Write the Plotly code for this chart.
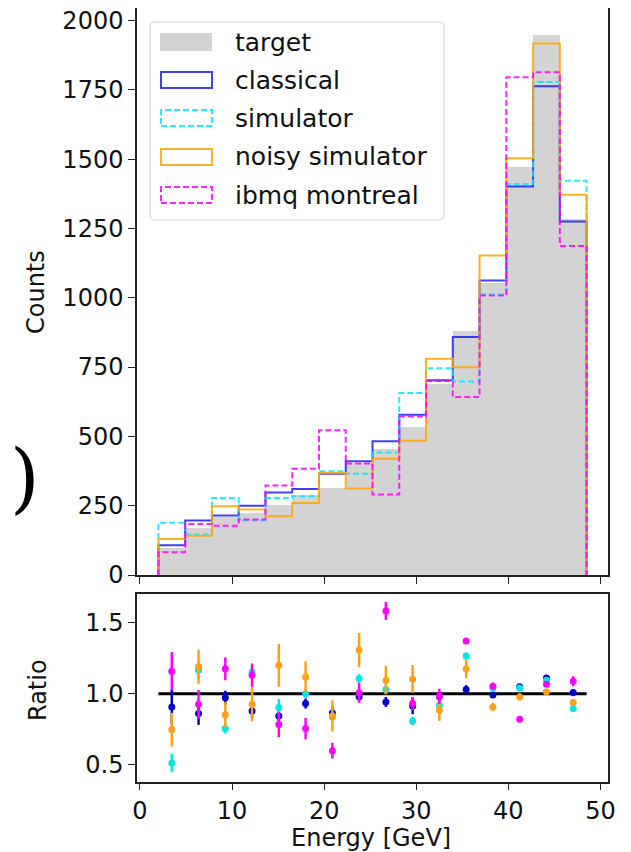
import numpy as np
import plotly.graph_objects as go

# ---------------- data ----------------
E_MIN, E_MAX, N_BINS = 2.0, 48.5, 16

target    = [96, 170, 210, 222, 252, 288, 315, 404, 456, 533, 688, 880, 1052, 1470, 1948, 1283]
classical = [107, 197, 215, 250, 298, 310, 365, 410, 482, 578, 702, 858, 1062, 1401, 1763, 1275]
simulator = [188, 146, 278, 197, 278, 284, 374, 365, 442, 656, 746, 698, 1012, 1410, 1778, 1422]
noisy     = [130, 142, 248, 236, 212, 260, 368, 312, 419, 484, 780, 749, 1152, 1503, 1917, 1371]
ibmq      = [82, 184, 178, 200, 323, 383, 522, 402, 290, 572, 700, 642, 1008, 1795, 1813, 1187]

ratio_classical = [0.907, 0.861, 0.971, 0.879, 0.844, 0.931, 0.865, 0.978, 0.942, 0.914, 0.98, 1.03, 0.99, 1.048, 1.111, 1.008]
err_classical   = [0.12, 0.08, 0.05, 0.05, 0.04, 0.035, 0.045, 0.025, 0.035, 0.058, 0.03, 0.03, 0.02, 0.02, 0.02, 0.025]
ratio_simulator = [0.513, 1.165, 0.755, 1.151, 0.903, 1.0, 0.837, 1.107, 1.03, 0.809, 0.919, 1.264, 1.04, 1.04, 1.095, 0.896]
err_simulator   = [0.064, 0.06, 0.035, 0.04, 0.06, 0.03, 0.03, 0.03, 0.03, 0.03, 0.03, 0.025, 0.025, 0.02, 0.02, 0.025]
ratio_noisy     = [0.748, 1.189, 0.853, 0.926, 1.2, 1.118, 0.844, 1.306, 1.095, 1.104, 0.884, 1.175, 0.907, 0.977, 1.013, 0.938]
err_noisy       = [0.118, 0.12, 0.088, 0.12, 0.15, 0.108, 0.11, 0.12, 0.1, 0.097, 0.075, 0.067, 0.03, 0.025, 0.02, 0.025]
ratio_ibmq      = [1.158, 0.926, 1.175, 1.13, 0.783, 0.755, 0.6, 1.006, 1.581, 0.931, 0.982, 1.37, 1.053, 0.82, 1.067, 1.088]
err_ibmq        = [0.135, 0.1, 0.08, 0.082, 0.088, 0.075, 0.055, 0.07, 0.063, 0.045, 0.053, 0.02, 0.025, 0.02, 0.02, 0.035]

labels = ["target", "classical", "simulator", "noisy simulator", "ibmq montreal"]

# ---------------- styling ----------------
FONT = "DejaVu Sans"
C_TARGET = "#d3d3d3"
C_LINES = {"classical": "rgba(30,30,240,0.85)", "simulator": "rgba(0,230,255,0.85)",
           "noisy simulator": "rgba(255,165,0,0.85)", "ibmq montreal": "rgba(255,0,255,0.85)"}
C_PTS = {"classical": "#0000cd", "simulator": "#00e6e6",
         "noisy simulator": "#ffa01a", "ibmq montreal": "#ff00ff"}
DASH = {"classical": "solid", "simulator": "6px,3px", "noisy simulator": "solid", "ibmq montreal": "6px,3px"}

# page body has an 8px margin; work in reference-pixel coordinates and shift
OFF = 8
W, H = 631 - OFF, 852 - OFF
FRAME_L, FRAME_R, FRAME_T, FRAME_B = 137, 608, 8, 782
L = FRAME_L - OFF
R = W - (FRAME_R - OFF)
T = FRAME_T - OFF
B = H - (FRAME_B - OFF)
PW, PH = W - L - R, H - T - B


def px(x):
    return (x - OFF - L) / PW


def py(y):
    return (H - B - (y - OFF)) / PH


edges = np.linspace(E_MIN, E_MAX, N_BINS + 1)
centers = 0.5 * (edges[:-1] + edges[1:])
bw = edges[1] - edges[0]

fig = go.Figure()

# target filled histogram
fig.add_trace(go.Bar(x=centers, y=target, width=bw, marker=dict(color=C_TARGET, line=dict(width=0)),
                     xaxis="x", yaxis="y", showlegend=False))

hist = {"classical": classical, "simulator": simulator, "noisy simulator": noisy, "ibmq montreal": ibmq}
for name, vals in hist.items():
    xs = np.concatenate([[edges[0]], edges])
    ys = np.concatenate([[0], vals, [0]])
    fig.add_trace(go.Scatter(x=xs, y=ys, mode="lines", line=dict(shape="hv", color=C_LINES[name], width=2,
                                                                  dash=DASH[name]),
                             xaxis="x", yaxis="y", showlegend=False, hoverinfo="skip"))

# ratio panel
fig.add_trace(go.Scatter(x=[edges[0], edges[-1]], y=[1, 1], mode="lines", line=dict(color="black", width=3),
                         xaxis="x2", yaxis="y2", showlegend=False))
ratios = {"classical": (ratio_classical, err_classical), "simulator": (ratio_simulator, err_simulator),
          "noisy simulator": (ratio_noisy, err_noisy), "ibmq montreal": (ratio_ibmq, err_ibmq)}
for name, (r, e) in ratios.items():
    fig.add_trace(go.Scatter(x=centers, y=r, mode="markers",
                             marker=dict(color=C_PTS[name], size=7),
                             error_y=dict(type="data", array=e, thickness=2.5, width=0, color=C_PTS[name]),
                             xaxis="x2", yaxis="y2", showlegend=False))

axis_common = dict(showline=True, mirror=True, linecolor="#222", linewidth=1.5, ticks="outside",
                   tickwidth=1.3, tickcolor="#222", showgrid=False, zeroline=False,
                   ticklabeloverflow="allow",
                   tickfont=dict(family=FONT, size=24, color="#111"))

top_bottom = py(575)
bot_top = py(594)
fig.update_layout(
    width=W, height=H, margin=dict(l=L, r=R, t=T, b=B, pad=0, autoexpand=False),
    paper_bgcolor="white", plot_bgcolor="white", bargap=0,
    xaxis=dict(domain=[0, 1], anchor="y", range=[-0.325, 50.825], showticklabels=False,
               dtick=10, ticklen=7, **axis_common),
    yaxis=dict(domain=[top_bottom, 1], anchor="x", range=[0, 2045], dtick=250, ticklen=7, **axis_common),
    xaxis2=dict(domain=[0, 1], anchor="y2", range=[-0.325, 50.825], dtick=10, ticklen=6, **axis_common),
    yaxis2=dict(domain=[0, bot_top], anchor="x2", range=[0.38, 1.70], tickvals=[0.5, 1.0, 1.5],
                tickformat=".1f", ticklen=7, **axis_common),
)

TITLE_FONT = dict(family=FONT, size=24, color="#111")
ann = []
ann.append(dict(x=px(36), y=py(292), xref="paper", yref="paper", text="Counts", textangle=-90,
                xanchor="center", yanchor="middle", showarrow=False, font=TITLE_FONT))
ann.append(dict(x=px(38), y=py(690), xref="paper", yref="paper", text="Ratio", textangle=-90,
                xanchor="center", yanchor="middle", showarrow=False, font=TITLE_FONT))
ann.append(dict(x=px(371), y=py(838), xref="paper", yref="paper", text="Energy [GeV]",
                xanchor="center", yanchor="middle", showarrow=False, borderpad=0, font=TITLE_FONT))
# stray parenthesis at the left edge
ann.append(dict(x=px(8.5), y=py(477), xref="paper", yref="paper", text=")", showarrow=False,
                xanchor="left", yanchor="middle", borderpad=0,
                font=dict(family="DejaVu Serif", size=76, color="black", weight=200)))

# manual legend
shapes = []
x0, x1, y0, y1, rr = 150, 444, 22, 220, 5
path = (f"M {px(x0+rr)} {py(y0)} L {px(x1-rr)} {py(y0)} Q {px(x1)} {py(y0)} {px(x1)} {py(y0+rr)} "
        f"L {px(x1)} {py(y1-rr)} Q {px(x1)} {py(y1)} {px(x1-rr)} {py(y1)} "
        f"L {px(x0+rr)} {py(y1)} Q {px(x0)} {py(y1)} {px(x0)} {py(y1-rr)} "
        f"L {px(x0)} {py(y0+rr)} Q {px(x0)} {py(y0)} {px(x0+rr)} {py(y0)} Z")
shapes.append(dict(type="path", xref="paper", yref="paper", path=path,
                   fillcolor="rgba(255,255,255,0.8)", line=dict(color="#d0d0d0", width=1)))
rows = [42, 80, 118, 157, 195]
for lab, yc in zip(labels, rows):
    if lab == "target":
        shapes.append(dict(type="rect", xref="paper", yref="paper", x0=px(160), x1=px(212),
                           y0=py(yc + 9), y1=py(yc - 9), fillcolor=C_TARGET, line=dict(width=0)))
    else:
        shapes.append(dict(type="rect", xref="paper", yref="paper", x0=px(161), x1=px(212),
                           y0=py(yc + 8), y1=py(yc - 8), fillcolor="rgba(0,0,0,0)",
                           line=dict(color=C_LINES[lab], width=2, dash=DASH[lab])))
    ann.append(dict(x=px(233), y=py(yc), xref="paper", yref="paper", text=lab, showarrow=False,
                    xanchor="left", yanchor="middle", font=dict(family=FONT, size=25, color="#111")))

fig.update_layout(annotations=ann, shapes=shapes)
fig.write_html("out.html")
